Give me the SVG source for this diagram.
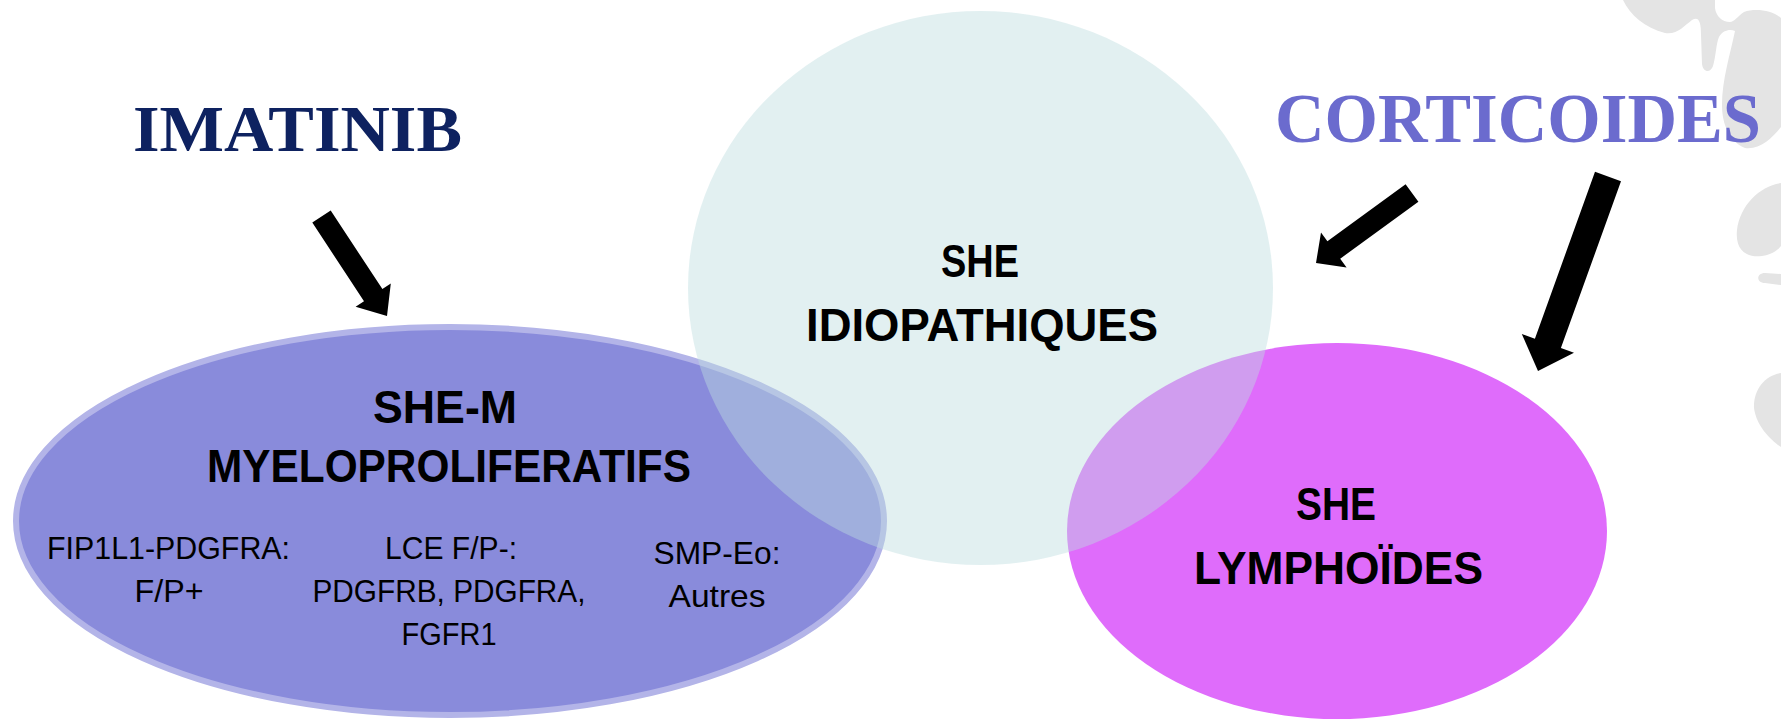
<svg xmlns="http://www.w3.org/2000/svg" width="1781" height="719" viewBox="0 0 1781 719">
<style>
.blob{fill:#e4e4e4}
.big{font-family:"Liberation Sans",Arial,sans-serif;font-weight:bold;font-size:46px;fill:#000;text-anchor:middle}
.small{font-family:"Liberation Sans",Arial,sans-serif;font-size:32px;fill:#000;text-anchor:middle}
.title{font-family:"Liberation Serif","Times New Roman",serif;font-weight:bold;text-anchor:middle}
.arrow{fill:#000}
</style>
<rect width="1781" height="719" fill="#fff"/>
<g id="background">
<path class="blob" d="M1623,0 C1630,15 1645,28 1665,33 C1677,35 1684,26 1692,20 C1699,16 1701,22 1701,35 L1702,64 C1703,72 1710,74 1713,66 C1716,56 1716,44 1719,37 C1723,30 1730,29 1735,31 C1730,55 1722,80 1722,105 C1722,125 1730,142 1745,148 C1760,150 1772,138 1781,127 L1781,18 C1772,10 1755,8 1744,12 C1738,16 1734,22 1730,22 C1722,22 1716,16 1715,8 L1715,0 Z"/>
<path class="blob" d="M1781,183 C1760,186 1740,205 1737,230 C1735,250 1746,258 1762,256 C1771,255 1778,250 1781,246 Z"/>
<path class="blob" d="M1781,274 L1765,273 C1756,273 1756,283 1765,283 L1781,285 Z"/>
<path class="blob" d="M1781,373 C1765,375 1753,390 1754,408 C1756,425 1770,440 1781,447 Z"/>
</g>
<g id="she-m">
<ellipse cx="450" cy="521" rx="434" ry="194" fill="#898bdb" stroke="#b3b4e8" stroke-width="6"/>
</g>
<g id="she-lymphoides">
<ellipse cx="1337" cy="531" rx="270" ry="188" fill="#df6cfb"/>
</g>
<g id="she-idiopathiques">
<ellipse cx="980.5" cy="288" rx="292.5" ry="277" fill="#bddddf" fill-opacity="0.44"/>
<text class="big" x="980" y="277" textLength="78" lengthAdjust="spacingAndGlyphs">SHE</text>
<text class="big" x="982" y="341" textLength="352" lengthAdjust="spacingAndGlyphs">IDIOPATHIQUES</text>
</g>
<g id="she-m-text">
<text class="big" x="445" y="423" textLength="144" lengthAdjust="spacingAndGlyphs">SHE-M</text>
<text class="big" x="449" y="482" textLength="484" lengthAdjust="spacingAndGlyphs">MYELOPROLIFERATIFS</text>
<text class="small" x="168.5" y="559" textLength="243" lengthAdjust="spacingAndGlyphs">FIP1L1-PDGFRA:</text>
<text class="small" x="169" y="602" textLength="69" lengthAdjust="spacingAndGlyphs">F/P+</text>
<text class="small" x="451" y="559" textLength="132" lengthAdjust="spacingAndGlyphs">LCE F/P-:</text>
<text class="small" x="449" y="602" textLength="273" lengthAdjust="spacingAndGlyphs">PDGFRB, PDGFRA,</text>
<text class="small" x="449" y="645" textLength="95" lengthAdjust="spacingAndGlyphs">FGFR1</text>
<text class="small" x="717" y="564" textLength="127" lengthAdjust="spacingAndGlyphs">SMP-Eo:</text>
<text class="small" x="717" y="607" textLength="97" lengthAdjust="spacingAndGlyphs">Autres</text>
</g>
<g id="she-lymphoides-text">
<text class="big" x="1336" y="520" textLength="80" lengthAdjust="spacingAndGlyphs">SHE</text>
<text class="big" x="1338.5" y="584" textLength="289" lengthAdjust="spacingAndGlyphs">LYMPHOÏDES</text>
</g>
<g id="imatinib">
<text class="title" x="297.5" y="151" font-size="66" fill="#0e2260" textLength="329" lengthAdjust="spacingAndGlyphs">IMATINIB</text>
</g>
<g id="corticoides">
<text class="title" x="1518" y="142" font-size="70" fill="#6b6bce" textLength="486" lengthAdjust="spacingAndGlyphs">CORTICOIDES</text>
</g>
<g id="connectors">
<polygon class="arrow" points="330.7,210.5 382.4,289.1 390.8,283.6 387,316 355.6,306.7 364,301.2 312.3,222.6"/>
<polygon class="arrow" points="1405.6,184.3 1327.4,241.3 1321,232.4 1316,263 1346.6,267.6 1340.2,258.7 1418.4,201.7"/>
<polygon class="arrow" points="1595,171.8 1534.9,338.7 1521.8,334 1538,371 1574,352.8 1560.9,348.1 1621,181.2"/>
</g>
</svg>
